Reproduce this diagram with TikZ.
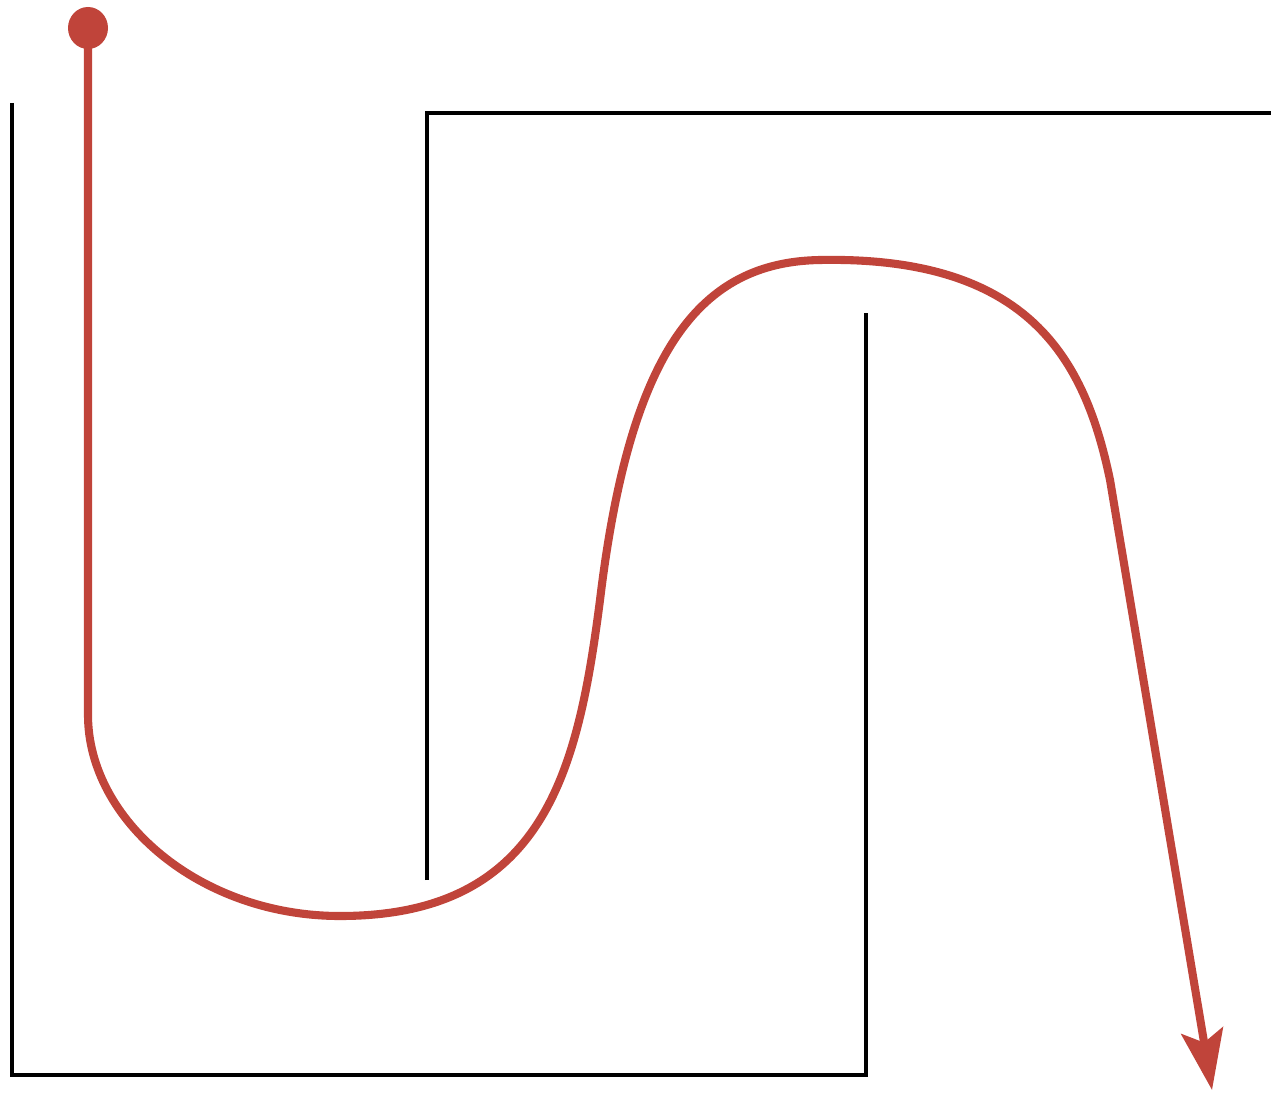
\documentclass[tikz,border=0pt]{standalone}
\usetikzlibrary{arrows.meta}
\definecolor{pathred}{RGB}{192,68,58}

\begin{document}
\begin{tikzpicture}[x=0.01cm,y=-0.01cm,line width=1.1pt]
    \useasboundingbox (0,0) rectangle (1271,1095);
    % walls
    \coordinate (A) at (12,103);
    \coordinate (B) at (12,1075);
    \coordinate (C) at (866,1075);
    \coordinate (D) at (866,313);
    \coordinate (E) at (427,880);
    \coordinate (F) at (427,113);
    \coordinate (G) at (1271,113);
    \draw [black] (A) -- (B) -- (C) -- (D);
    \draw [black] (E) -- (F) -- (G);
    % route
    \coordinate (S) at (88,28);
    \coordinate (P1) at (88,715);
    \coordinate (P2) at (340,916);
    \coordinate (P3) at (600,600);
    \coordinate (P4) at (820,260);
    \coordinate (P5) at (1110,480);
    \coordinate (T) at (1212,1090);
    \draw [pathred,line width=2.3pt,-{Stealth[length=0.6cm,width=0.42cm,inset=0.12cm]}]
        (S) -- (P1)
        .. controls (88,820) and (200,916) .. (P2)
        .. controls (545,916) and (578,770) .. (P3)
        .. controls (630,350) and (700,262) .. (P4)
        .. controls (1030,256) and (1085,360) .. (P5)
        -- (T);
    \fill [pathred] (S) ellipse [x radius=20,y radius=21];
\end{tikzpicture}
\end{document}
